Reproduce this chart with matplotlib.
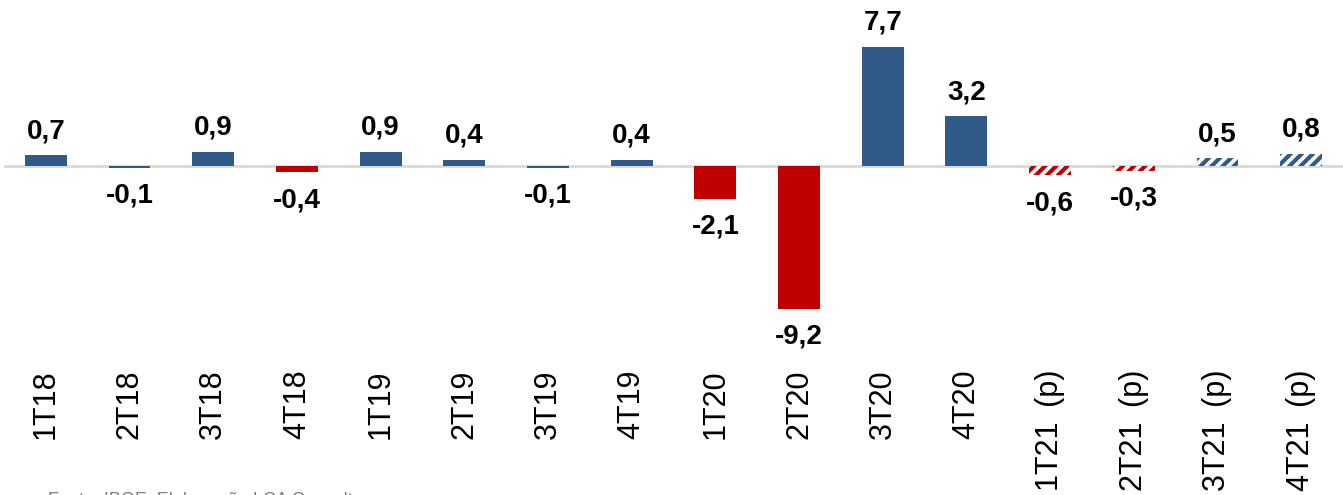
import matplotlib
matplotlib.use('Agg')
from matplotlib import pyplot as plt

# PIB trimestral, variacao % contra trimestre anterior
quarters = ['1T18', '2T18', '3T18', '4T18', '1T19', '2T19', '3T19', '4T19',
            '1T20', '2T20', '3T20', '4T20',
            '1T21 \u2009(p)', '2T21 \u2009(p)', '3T21 \u2009(p)', '4T21 \u2009(p)']
values = [0.7, -0.1, 0.9, -0.4, 0.9, 0.4, -0.1, 0.4,
          -2.1, -9.2, 7.7, 3.2, -0.6, -0.3, 0.5, 0.8]
projected = [False] * 12 + [True] * 4

BLUE = '#305B88'
RED = '#C00000'
bar_colors = [BLUE, BLUE, BLUE, RED, BLUE, BLUE, BLUE, BLUE,
              RED, RED, BLUE, BLUE, RED, RED, BLUE, BLUE]

plt.rcParams['font.family'] = ['Liberation Sans', 'DejaVu Sans']
plt.rcParams['hatch.linewidth'] = 3.0

W, H = 1343, 495
fig = plt.figure(figsize=(W / 100, H / 100), dpi=100)
ax = fig.add_axes([4 / W, (H - 365) / H, (W - 4) / W, 365 / H])

x = list(range(len(values)))
for i in x:
    if projected[i]:
        ax.bar(i, values[i], width=0.5, facecolor='white', edgecolor=bar_colors[i],
               hatch='///', linewidth=0, zorder=2)
    else:
        ax.bar(i, values[i], width=0.5, color=bar_colors[i], linewidth=0, zorder=2)

    label = f'{values[i]:.1f}'.replace('.', ',')
    if values[i] >= 0:
        ax.annotate(label, (i, values[i]), xytext=(0, 8), textcoords='offset points',
                    ha='center', va='bottom', fontsize=20, fontweight='bold')
    else:
        ax.annotate(label, (i, values[i]), xytext=(0, -11), textcoords='offset points',
                    ha='center', va='top', fontsize=20, fontweight='bold')

ax.axhline(0, color='#D9D9D9', linewidth=2, zorder=1)

px_per_unit = 15.5
ax.set_ylim(-(365 - 166) / px_per_unit, 166 / px_per_unit)
ax.set_xlim(-0.5, len(values) - 0.5)

ax.set_xticks(x)
ax.set_xticklabels(quarters, rotation=90, fontsize=22, va='top')
ax.tick_params(axis='x', length=0, pad=3)
ax.set_yticks([])
for s in ax.spines.values():
    s.set_visible(False)

fig.text(48 / W, 3 / H, 'Fonte: IBGE. Elaboração LCA Consultores', color='#7F7F7F',
         fontsize=13, ha='left', va='top')

fig.savefig('out.png', dpi=100)
